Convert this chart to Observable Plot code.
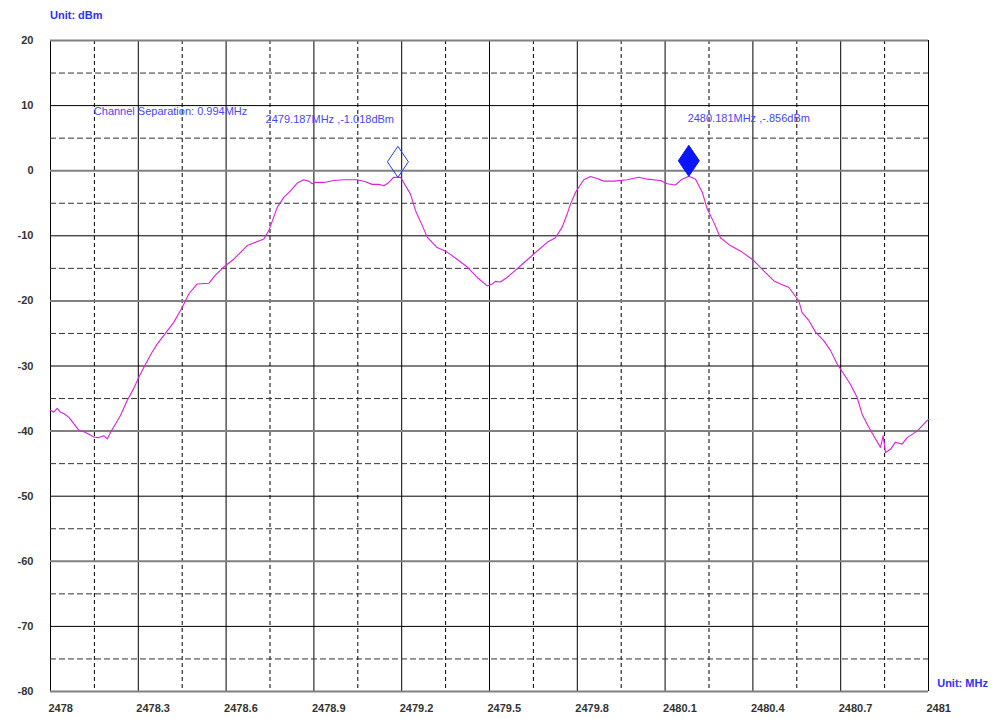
<!DOCTYPE html>
<html><head><meta charset="utf-8">
<script src="https://cdn.jsdelivr.net/npm/d3@7"></script>
<script src="https://cdn.jsdelivr.net/npm/@observablehq/plot@0.6"></script>
<style>html,body{margin:0;padding:0;background:#fff} svg{display:block}</style>
</head><body><div id="chart"></div>
<script>
// Trace: frequency (MHz) and level (dBm)
const freqMHz = [
  2478.000, 2478.011, 2478.023, 2478.034, 2478.045, 2478.063, 2478.080, 2478.097, 2478.114, 2478.131,
  2478.148, 2478.165, 2478.182, 2478.194, 2478.205, 2478.222, 2478.239, 2478.262, 2478.285, 2478.302,
  2478.325, 2478.347, 2478.365, 2478.399, 2478.421, 2478.450, 2478.473, 2478.501, 2478.541, 2478.564,
  2478.592, 2478.626, 2478.672, 2478.729, 2478.746, 2478.775, 2478.797, 2478.820, 2478.843, 2478.865,
  2478.882, 2478.894, 2478.905, 2478.934, 2478.968, 2479.002, 2479.048, 2479.076, 2479.099, 2479.122,
  2479.139, 2479.156, 2479.173, 2479.187, 2479.196, 2479.213, 2479.230, 2479.247, 2479.270, 2479.287,
  2479.321, 2479.355, 2479.389, 2479.424, 2479.458, 2479.492, 2479.509, 2479.520, 2479.537, 2479.560,
  2479.606, 2479.651, 2479.697, 2479.725, 2479.748, 2479.765, 2479.777, 2479.794, 2479.822, 2479.845,
  2479.868, 2479.890, 2479.925, 2479.970, 2480.010, 2480.039, 2480.084, 2480.107, 2480.135, 2480.158,
  2480.181, 2480.204, 2480.227, 2480.244, 2480.266, 2480.289, 2480.323, 2480.363, 2480.403, 2480.437,
  2480.471, 2480.494, 2480.522, 2480.539, 2480.557, 2480.568, 2480.591, 2480.614, 2480.642, 2480.665,
  2480.688, 2480.710, 2480.733, 2480.756, 2480.773, 2480.796, 2480.819, 2480.836, 2480.845, 2480.853,
  2480.870, 2480.887, 2480.910, 2480.927, 2480.961, 2480.995, 2481.000
];
const levelDbm = [
  -36.8, -37.1, -36.5, -37.1, -37.3, -37.9, -38.9, -39.9, -40.1, -40.5,
  -40.9, -41.0, -40.7, -41.2, -40.2, -38.9, -37.6, -35.3, -33.4, -31.7,
  -29.7, -27.9, -26.6, -24.6, -23.3, -21.0, -18.9, -17.4, -17.3, -16.0,
  -14.8, -13.6, -11.5, -10.5, -9.2, -5.6, -4.1, -3.1, -1.9, -1.4,
  -1.6, -2.0, -1.8, -1.8, -1.5, -1.4, -1.4, -1.7, -2.1, -2.1,
  -2.3, -1.8, -1.0, -1.018, -1.0, -2.3, -3.6, -6.1, -8.4, -10.2,
  -11.8, -12.5, -13.6, -14.8, -16.4, -17.7, -17.4, -17.0, -17.1, -16.4,
  -14.6, -12.8, -11.0, -10.3, -8.7, -6.7, -5.1, -3.3, -1.4, -0.9,
  -1.2, -1.6, -1.6, -1.4, -1.0, -1.3, -1.5, -2.0, -2.2, -1.3,
  -0.856, -1.3, -3.3, -5.9, -7.9, -10.3, -11.5, -12.5, -13.8, -15.4,
  -16.9, -17.4, -17.9, -18.9, -20.0, -21.8, -23.0, -24.8, -26.1, -27.6,
  -29.7, -31.2, -32.8, -34.8, -37.4, -39.4, -41.2, -42.5, -40.7, -43.3,
  -42.8, -41.7, -42.0, -41.0, -40.0, -38.4, -38.2
];

const xTickValues = [2478, 2478.3, 2478.6, 2478.9, 2479.2, 2479.5, 2479.8, 2480.1, 2480.4, 2480.7, 2481];
const xTickLabels = ["2478", "2478.3", "2478.6", "2478.9", "2479.2", "2479.5", "2479.8", "2480.1", "2480.4", "2480.7", "2481"];
const yTickValues = [20, 10, 0, -10, -20, -30, -40, -50, -60, -70, -80];
const yTickLabels = ["20", "10", "0", "-10", "-20", "-30", "-40", "-50", "-60", "-70", "-80"];

const markerFreq = [2479.187, 2480.181];
const markerLevel = [-1.018, -0.856];
const markerFilled = [false, true];

const noteText = ["Channel Separation: 0.994MHz", "2479.187MHz ,-1.018dBm", "2480.181MHz ,-.856dBm"];
const noteFreq = [2478.148, 2478.735, 2480.177];
const noteLevel = [9.06, 7.94, 8.1];

const yUnit = "Unit: dBm";
const xUnit = "Unit: MHz";

// ---- derived tables ----
const trace = freqMHz.map((f, i) => ({f, v: levelDbm[i]}));
const markers = markerFreq.map((f, i) => ({f, v: markerLevel[i], filled: markerFilled[i]}));
const notes = noteText.map((t, i) => ({t, f: noteFreq[i], v: noteLevel[i]}));
const xTicks = xTickValues.map((v, i) => ({v, label: xTickLabels[i]}));
const yTicks = yTickValues.map((v, i) => ({v, label: yTickLabels[i]}));

const xMid = d3.range(0, 10).map(i => 2478.15 + i * 0.3);
const yThick = [20, 0, -20, -40, -60, -80];
const yThin = [10, -10, -30, -50, -70];
const yDash = d3.range(15, -80, -10);

const tallDiamond = {
  draw(ctx, size) {
    const r = Math.sqrt(size / Math.PI);
    ctx.moveTo(0, -1.55 * r);
    ctx.lineTo(1.05 * r, 0);
    ctx.lineTo(0, 1.55 * r);
    ctx.lineTo(-1.05 * r, 0);
    ctx.closePath();
  }
};

const blue = "#2f2fff";
const font = "'Liberation Sans', Arial, sans-serif";

const chart = Plot.plot({
  width: 997,
  height: 719,
  marginLeft: 50,
  marginRight: 69,
  marginTop: 40,
  marginBottom: 28,
  x: {domain: [2478, 2481], axis: null},
  y: {domain: [-80, 20], axis: null},
  style: {fontFamily: font, background: "#fff", overflow: "visible"},
  marks: [
    Plot.ruleX(xMid, {stroke: "#000", strokeWidth: 1, strokeDasharray: "4,3"}),
    Plot.ruleX(xTickValues, {stroke: "#000", strokeWidth: 1}),
    Plot.ruleY(yDash, {stroke: "#333", strokeWidth: 1, strokeDasharray: "6,3"}),
    Plot.ruleY(yThin, {stroke: "#000", strokeWidth: 1}),
    Plot.ruleY(yThick, {stroke: "#808080", strokeWidth: 2}),
    Plot.line(trace, {x: "f", y: "v", stroke: "#e01ee0", strokeWidth: 1.1}),
    Plot.dot(markers.filter(d => !d.filled), {x: "f", y: "v", symbol: tallDiamond, r: 10, dy: -15.5, fill: "none", stroke: "#1a3cff", strokeWidth: 1}),
    Plot.dot(markers.filter(d => d.filled), {x: "f", y: "v", symbol: tallDiamond, r: 10, dy: -15.5, fill: "#0a14ff", stroke: "#0a14ff", strokeWidth: 1}),
    Plot.text(notes, {x: "f", y: "v", text: "t", textAnchor: "start", fill: "#4646ff", fontSize: 11}),
    Plot.text(yTicks, {y: "v", text: "label", frameAnchor: "left", dx: -17, textAnchor: "end", fill: "#333", fontWeight: "bold", fontSize: 11}),
    Plot.text(xTicks, {x: "v", text: "label", frameAnchor: "bottom", dy: 20, dx: -2, textAnchor: "start", fill: "#333", fontWeight: "bold", fontSize: 11}),
    Plot.text([yUnit], {frameAnchor: "top-left", dy: -29, dx: -0.5, textAnchor: "start", fill: blue, fontWeight: "bold", fontSize: 11}),
    Plot.text([xUnit], {frameAnchor: "bottom-right", dy: -5, dx: 8.7, textAnchor: "start", fill: blue, fontWeight: "bold", fontSize: 11})
  ]
});
document.getElementById("chart").append(chart);
</script>
</body></html>
